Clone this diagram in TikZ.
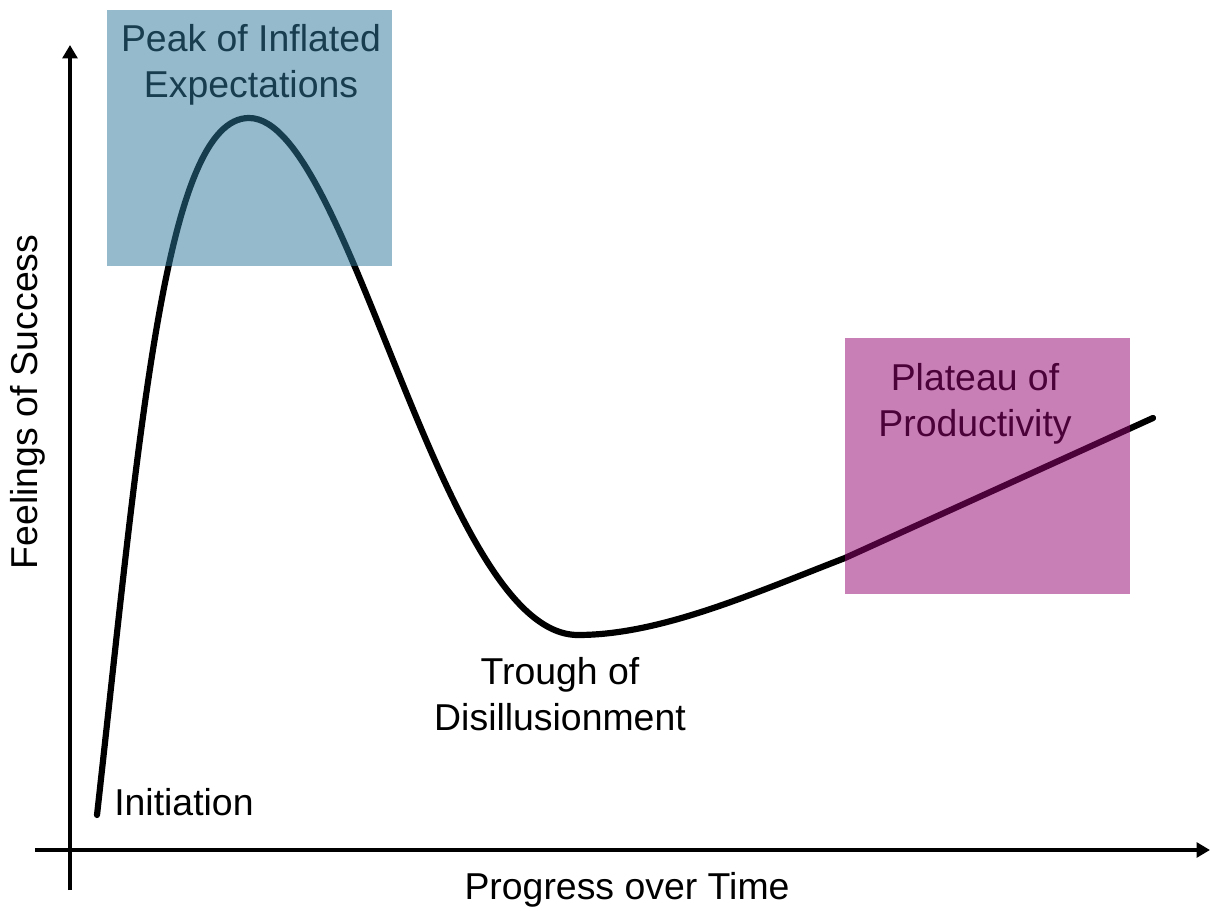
\documentclass[tikz,border=0pt]{standalone}
\usepackage{fontspec}
\setmainfont{Liberation Sans}
\usetikzlibrary{arrows.meta}

\definecolor{peakfill}{RGB}{45,120,153}
\definecolor{peaktext}{RGB}{23,61,78}
\definecolor{plateaufill}{RGB}{147,4,112}
\definecolor{plateautext}{RGB}{75,2,57}

\tikzset{
  axis/.style={line width=2.5pt,-{Triangle[length=9.5pt,width=10.5pt]}},
  hype/.style={line width=4.4pt,line cap=round,line join=round},
  caption/.style={font=\fontsize{26.6}{32.5}\selectfont,align=center,inner sep=0pt},
  phase/.style={rectangle,draw=none,inner sep=0pt,anchor=north west,
    minimum width=7.125cm,minimum height=6.4cm,fill opacity=0.51}
}

\begin{document}
\begin{tikzpicture}[x=0.025cm,y=-0.025cm]
\useasboundingbox (0,0) rectangle (1211,911);

% axes
\coordinate (ybot) at (70,890);
\coordinate (ytop) at (70,45);
\coordinate (xleft) at (35,850);
\coordinate (xright) at (1210,850);
\draw[axis] (ybot) -- (ytop);
\draw[axis] (xleft) -- (xright);

% hype curve
\coordinate (start) at (97,815);
\coordinate (peak) at (249,118);
\coordinate (trough) at (578,635);
\coordinate (rise) at (845,558);
\coordinate (finish) at (1153,418);
\draw[hype] (start) .. controls (140,430) and (165,118) .. (peak)
  .. controls (350,118) and (440,635) .. (trough)
  .. controls (660,635) and (752,594) .. (rise) -- (finish);

% phase boxes
\node[phase,fill=peakfill] (peakbox) at (107,10) {};
\node[phase,fill=plateaufill] (plateaubox) at (845,338) {};

% labels
\node[caption,text=peaktext] (peaklabel) at (251,65) {Peak of Inflated\\Expectations};
\node[caption,text=plateautext] (plateaulabel) at (975,404) {Plateau of\\Productivity};
\node[caption] (troughlabel) at (560,694) {Trough of\\Disillusionment};
\node[caption,anchor=west] (initlabel) at (114,802) {Initiation};
\node[caption] (xlabel) at (627,890) {Progress over Time};
\node[caption,rotate=90] (ylabel) at (28,402) {Feelings of Success};
\end{tikzpicture}
\end{document}
